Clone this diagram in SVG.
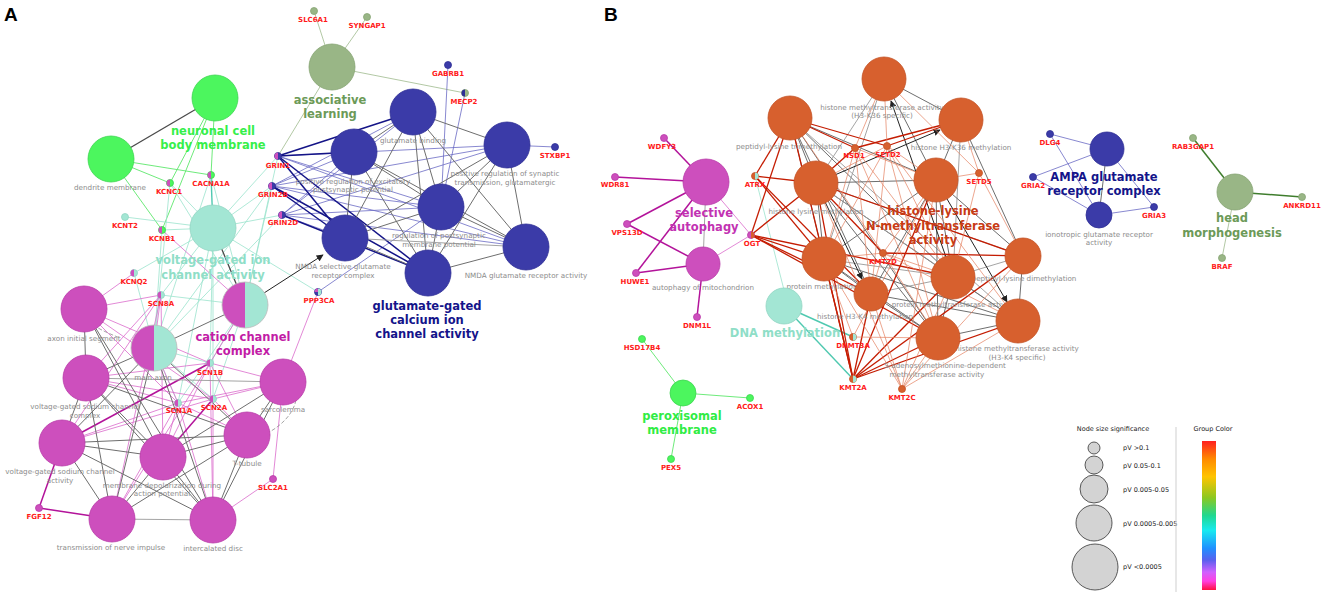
<svg xmlns="http://www.w3.org/2000/svg" width="1325" height="596" viewBox="0 0 1325 596">
<style>
.t{font-family:"DejaVu Sans",sans-serif;font-size:7.2px;fill:#8c8c8c;text-anchor:middle}
.gl{font-family:"DejaVu Sans",sans-serif;font-weight:bold;font-size:7px;fill:#ff1a1a;text-anchor:middle}
.grp{font-family:"DejaVu Sans",sans-serif;font-weight:bold;font-size:11.5px;text-anchor:middle}
.pl{font-family:"Liberation Sans",Arial,sans-serif;font-weight:bold;font-size:19px;fill:#000}
.lg{font-family:"DejaVu Sans",sans-serif;font-size:6.5px;fill:#222}
.ng{fill:#4cf65e;stroke:#3ed550;stroke-width:0.8}
.na{fill:#a3e6d4;stroke:#92d6c3;stroke-width:0.8}
.nm{fill:#cd4fbd;stroke:#b93aa8;stroke-width:0.8}
.nb{fill:#3b3ba8;stroke:#2e2e96;stroke-width:0.8}
.ns{fill:#99b686;stroke:#87a474;stroke-width:0.8}
.no{fill:#d7602e;stroke:#c45224;stroke-width:0.8}
.hg{fill:#4cf65e}.ha{fill:#a3e6d4}.hm{fill:#cd4fbd}.hb{fill:#2e2e96}.hs{fill:#99b686}.ho{fill:#d7602e}
.e-k{stroke:#4a4a4a;stroke-width:1.3;fill:none}
.e-g{stroke:#6e6e6e;stroke-width:1;fill:none}
.e-gl{stroke:#9a9a9a;stroke-width:0.9;fill:none}
.e-a{stroke:#9ae3cd;stroke-width:0.8;fill:none}
.e-A{stroke:#4fc9b0;stroke-width:1.4;fill:none}
.e-gr{stroke:#5ee86c;stroke-width:0.9;fill:none}
.e-m{stroke:#da6bcb;stroke-width:0.8;fill:none}
.e-M{stroke:#b3139a;stroke-width:1.5;fill:none}
.e-b{stroke:#6a6ac4;stroke-width:0.8;fill:none}
.e-B{stroke:#141487;stroke-width:1.5;fill:none}
.e-s{stroke:#a9c29a;stroke-width:0.9;fill:none}
.e-S{stroke:#3f7d2d;stroke-width:1.5;fill:none}
.e-r{stroke:#c41c02;stroke-width:1.3;fill:none}
.e-o{stroke:#e4805e;stroke-width:0.7;fill:none}
.e-ar{stroke:#222;stroke-width:1;fill:none;marker-end:url(#arr)}
</style>
<defs>
<marker id="arr" viewBox="0 0 10 10" refX="9" refY="5" markerWidth="7" markerHeight="7" orient="auto" markerUnits="userSpaceOnUse"><path d="M0,0 L10,5 L0,10 z" fill="#222"/></marker>
<linearGradient id="gc" x1="0" y1="0" x2="0" y2="1">
<stop offset="0" stop-color="#ff2020"/><stop offset="0.12" stop-color="#ff8a00"/><stop offset="0.24" stop-color="#ffc400"/><stop offset="0.38" stop-color="#8cc820"/><stop offset="0.5" stop-color="#20d890"/><stop offset="0.6" stop-color="#18eaf0"/><stop offset="0.72" stop-color="#2090ff"/><stop offset="0.8" stop-color="#5a60ee"/><stop offset="0.88" stop-color="#d060ff"/><stop offset="0.94" stop-color="#ff40e0"/><stop offset="1" stop-color="#ff1040"/>
</linearGradient>
</defs>
<rect width="1325" height="596" fill="#fff"/>
<text class="pl" x="4" y="21">A</text>
<text class="pl" x="604" y="21">B</text>

<g id="connectors">
<!-- Panel A: green -->
<line class="e-k" x1="215" y1="98" x2="111" y2="159"/>
<line class="e-gr" x1="215" y1="98" x2="170" y2="183"/>
<line class="e-gr" x1="215" y1="98" x2="162" y2="230"/>
<line class="e-gr" x1="215" y1="98" x2="211" y2="175"/>
<line class="e-gr" x1="111" y1="159" x2="170" y2="183"/>
<line class="e-gr" x1="111" y1="159" x2="211" y2="175"/>
<line class="e-gr" x1="111" y1="159" x2="162" y2="230"/>
<!-- aquamarine -->
<line class="e-a" x1="213" y1="228" x2="170" y2="183"/>
<line class="e-A" x1="213" y1="228" x2="211" y2="175"/>
<line class="e-a" x1="213" y1="228" x2="125" y2="217"/>
<line class="e-a" x1="213" y1="228" x2="162" y2="230"/>
<line class="e-a" x1="213" y1="228" x2="278" y2="156"/>
<line class="e-a" x1="213" y1="228" x2="272" y2="186"/>
<line class="e-a" x1="213" y1="228" x2="282" y2="215"/>
<line class="e-a" x1="213" y1="228" x2="134" y2="273"/>
<line class="e-a" x1="213" y1="228" x2="161" y2="295"/>
<line class="e-a" x1="213" y1="228" x2="210" y2="363"/>
<line class="e-a" x1="213" y1="228" x2="178" y2="403"/>
<line class="e-a" x1="213" y1="228" x2="213" y2="399"/>
<line class="e-a" x1="213" y1="228" x2="318" y2="292"/>
<line class="e-a" x1="245" y1="305" x2="211" y2="175"/>
<line class="e-a" x1="245" y1="305" x2="170" y2="183"/>
<line class="e-a" x1="245" y1="305" x2="161" y2="295"/>
<line class="e-a" x1="245" y1="305" x2="210" y2="363"/>
<line class="e-a" x1="245" y1="305" x2="178" y2="403"/>
<line class="e-a" x1="245" y1="305" x2="213" y2="399"/>
<line class="e-a" x1="245" y1="305" x2="278" y2="156"/>
<line class="e-a" x1="245" y1="305" x2="272" y2="186"/>
<line class="e-a" x1="154" y1="348" x2="162" y2="230"/>
<line class="e-a" x1="154" y1="348" x2="170" y2="183"/>
<line class="e-a" x1="154" y1="348" x2="211" y2="175"/>
<line class="e-a" x1="154" y1="348" x2="210" y2="363"/>
<line class="e-a" x1="154" y1="348" x2="178" y2="403"/>
<line class="e-a" x1="154" y1="348" x2="213" y2="399"/>
<line class="e-a" x1="154" y1="348" x2="134" y2="273"/>
<line class="e-a" x1="154" y1="348" x2="272" y2="186"/>
<line class="e-a" x1="154" y1="348" x2="282" y2="215"/>
<!-- magenta -->
<line class="e-m" x1="84" y1="309" x2="134" y2="273"/>
<line class="e-m" x1="84" y1="309" x2="161" y2="295"/>
<line class="e-m" x1="84" y1="309" x2="178" y2="403"/>
<line class="e-m" x1="84" y1="309" x2="213" y2="399"/>
<line class="e-m" x1="84" y1="309" x2="210" y2="363"/>
<line class="e-m" x1="154" y1="348" x2="161" y2="295"/>
<line class="e-m" x1="154" y1="348" x2="178" y2="403"/>
<line class="e-m" x1="86" y1="378" x2="161" y2="295"/>
<line class="e-m" x1="86" y1="378" x2="210" y2="363"/>
<line class="e-m" x1="86" y1="378" x2="178" y2="403"/>
<line class="e-m" x1="86" y1="378" x2="213" y2="399"/>
<line class="e-m" x1="62" y1="443" x2="161" y2="295"/>
<line class="e-m" x1="62" y1="443" x2="178" y2="403"/>
<line class="e-m" x1="62" y1="443" x2="213" y2="399"/>
<line class="e-m" x1="163" y1="457" x2="161" y2="295"/>
<line class="e-m" x1="163" y1="457" x2="210" y2="363"/>
<line class="e-m" x1="163" y1="457" x2="178" y2="403"/>
<line class="e-m" x1="112" y1="519" x2="161" y2="295"/>
<line class="e-m" x1="112" y1="519" x2="210" y2="363"/>
<line class="e-m" x1="112" y1="519" x2="178" y2="403"/>
<line class="e-m" x1="213" y1="520" x2="178" y2="403"/>
<line class="e-m" x1="213" y1="520" x2="213" y2="399"/>
<line class="e-m" x1="213" y1="520" x2="210" y2="363"/>
<line class="e-m" x1="213" y1="520" x2="273" y2="479"/>
<line class="e-m" x1="247" y1="435" x2="178" y2="403"/>
<line class="e-m" x1="247" y1="435" x2="213" y2="399"/>
<line class="e-m" x1="247" y1="435" x2="210" y2="363"/>
<line class="e-m" x1="283" y1="382" x2="210" y2="363"/>
<line class="e-m" x1="283" y1="382" x2="178" y2="403"/>
<line class="e-m" x1="283" y1="382" x2="213" y2="399"/>
<line class="e-m" x1="283" y1="382" x2="318" y2="292"/>
<line class="e-m" x1="283" y1="382" x2="273" y2="479"/>
<line class="e-m" x1="245" y1="305" x2="162" y2="230"/>
<line class="e-m" x1="245" y1="305" x2="210" y2="363"/>
<line class="e-M" x1="62" y1="443" x2="39" y2="508"/>
<line class="e-M" x1="112" y1="519" x2="39" y2="508"/>
<line class="e-M" x1="62" y1="443" x2="210" y2="363"/>
<line class="e-M" x1="163" y1="457" x2="213" y2="399"/>
<!-- grey in magenta cluster -->
<line class="e-k" x1="213" y1="228" x2="245" y2="305"/>
<line class="e-g" x1="245" y1="305" x2="154" y2="348"/>
<line class="e-g" x1="84" y1="309" x2="86" y2="378"/>
<line class="e-g" x1="84" y1="309" x2="163" y2="457"/>
<line class="e-g" x1="84" y1="309" x2="213" y2="520"/>
<line class="e-g" x1="86" y1="378" x2="62" y2="443"/>
<line class="e-g" x1="86" y1="378" x2="163" y2="457"/>
<line class="e-g" x1="86" y1="378" x2="247" y2="435"/>
<line class="e-gl" x1="86" y1="378" x2="283" y2="382"/>
<line class="e-g" x1="86" y1="378" x2="213" y2="520"/>
<line class="e-g" x1="86" y1="378" x2="112" y2="519"/>
<line class="e-g" x1="62" y1="443" x2="163" y2="457"/>
<line class="e-g" x1="62" y1="443" x2="112" y2="519"/>
<line class="e-g" x1="62" y1="443" x2="213" y2="520"/>
<line class="e-g" x1="62" y1="443" x2="247" y2="435"/>
<line class="e-g" x1="163" y1="457" x2="112" y2="519"/>
<line class="e-g" x1="163" y1="457" x2="213" y2="520"/>
<line class="e-g" x1="163" y1="457" x2="247" y2="435"/>
<line class="e-g" x1="163" y1="457" x2="283" y2="382"/>
<line class="e-gl" x1="112" y1="519" x2="213" y2="520"/>
<line class="e-g" x1="112" y1="519" x2="247" y2="435"/>
<line class="e-g" x1="213" y1="520" x2="247" y2="435"/>
<line class="e-g" x1="213" y1="520" x2="283" y2="382"/>
<line class="e-g" x1="247" y1="435" x2="283" y2="382"/>
<line class="e-g" x1="154" y1="348" x2="62" y2="443"/>
<line class="e-g" x1="154" y1="348" x2="112" y2="519"/>
<line class="e-g" x1="154" y1="348" x2="213" y2="520"/>
<line class="e-g" x1="154" y1="348" x2="247" y2="435"/>
<line class="e-g" x1="154" y1="348" x2="86" y2="378"/>
<path class="e-gl" d="M70,292 C72,318 100,330 120,338" stroke-dasharray="4,2"/>
<path class="e-gl" d="M296,400 C292,420 270,434 255,438" stroke-dasharray="4,2"/>
<!-- sage -->
<line class="e-s" x1="332" y1="67" x2="314" y2="11"/>
<line class="e-s" x1="332" y1="67" x2="367" y2="17"/>
<line class="e-s" x1="332" y1="67" x2="465" y2="93"/>
<line class="e-s" x1="332" y1="67" x2="278" y2="156"/>
<!-- blue -->
<line class="e-b" x1="448" y1="65" x2="441" y2="207"/>
<line class="e-b" x1="465" y1="93" x2="441" y2="207"/>
<line class="e-b" x1="555" y1="147" x2="507" y2="145"/>
<line class="e-b" x1="318" y1="292" x2="441" y2="207"/>
<line class="e-b" x1="278" y1="156" x2="507" y2="145"/>
<line class="e-b" x1="278" y1="156" x2="441" y2="207"/>
<line class="e-b" x1="278" y1="156" x2="526" y2="247"/>
<line class="e-b" x1="272" y1="186" x2="413" y2="112"/>
<line class="e-b" x1="272" y1="186" x2="354" y2="152"/>
<line class="e-b" x1="272" y1="186" x2="507" y2="145"/>
<line class="e-b" x1="272" y1="186" x2="441" y2="207"/>
<line class="e-b" x1="272" y1="186" x2="526" y2="247"/>
<line class="e-b" x1="282" y1="215" x2="413" y2="112"/>
<line class="e-b" x1="282" y1="215" x2="354" y2="152"/>
<line class="e-b" x1="282" y1="215" x2="507" y2="145"/>
<line class="e-b" x1="282" y1="215" x2="441" y2="207"/>
<line class="e-b" x1="282" y1="215" x2="526" y2="247"/>
<line class="e-b" x1="282" y1="215" x2="345" y2="238"/>
<line class="e-B" x1="278" y1="156" x2="413" y2="112"/>
<line class="e-B" x1="278" y1="156" x2="354" y2="152"/>
<line class="e-B" x1="278" y1="156" x2="345" y2="238"/>
<line class="e-B" x1="278" y1="156" x2="428" y2="273"/>
<line class="e-B" x1="272" y1="186" x2="345" y2="238"/>
<line class="e-B" x1="272" y1="186" x2="428" y2="273"/>
<line class="e-B" x1="282" y1="215" x2="428" y2="273"/>
<!-- grey in blue cluster -->
<line class="e-g" x1="413" y1="112" x2="354" y2="152"/>
<line class="e-g" x1="413" y1="112" x2="507" y2="145"/>
<line class="e-g" x1="413" y1="112" x2="441" y2="207"/>
<line class="e-g" x1="413" y1="112" x2="345" y2="238"/>
<line class="e-g" x1="413" y1="112" x2="428" y2="273"/>
<line class="e-g" x1="413" y1="112" x2="526" y2="247"/>
<line class="e-g" x1="354" y1="152" x2="441" y2="207"/>
<line class="e-g" x1="354" y1="152" x2="345" y2="238"/>
<line class="e-g" x1="354" y1="152" x2="428" y2="273"/>
<line class="e-g" x1="354" y1="152" x2="526" y2="247"/>
<line class="e-g" x1="507" y1="145" x2="441" y2="207"/>
<line class="e-g" x1="507" y1="145" x2="526" y2="247"/>
<line class="e-g" x1="507" y1="145" x2="345" y2="238"/>
<line class="e-g" x1="507" y1="145" x2="428" y2="273"/>
<line class="e-g" x1="441" y1="207" x2="345" y2="238"/>
<line class="e-g" x1="441" y1="207" x2="428" y2="273"/>
<line class="e-g" x1="441" y1="207" x2="526" y2="247"/>
<line class="e-g" x1="345" y1="238" x2="428" y2="273"/>
<line class="e-gl" x1="345" y1="238" x2="526" y2="247"/>
<line class="e-g" x1="428" y1="273" x2="526" y2="247"/>
<line class="e-ar" x1="264" y1="293" x2="323" y2="255"/>

<!-- Panel B: autophagy -->
<line class="e-M" x1="706" y1="182" x2="664" y2="138"/>
<line class="e-M" x1="706" y1="182" x2="615" y2="177"/>
<line class="e-M" x1="706" y1="182" x2="627" y2="224"/>
<line class="e-M" x1="706" y1="182" x2="636" y2="273"/>
<line class="e-M" x1="703" y1="264" x2="627" y2="224"/>
<line class="e-M" x1="703" y1="264" x2="636" y2="273"/>
<line class="e-M" x1="703" y1="264" x2="697" y2="317"/>
<line class="e-m" x1="706" y1="182" x2="751" y2="235"/>
<line class="e-m" x1="703" y1="264" x2="751" y2="235"/>
<line class="e-gl" x1="706" y1="182" x2="703" y2="264"/>
<!-- aq B -->
<line class="e-a" x1="755" y1="176" x2="784" y2="290"/>
<line class="e-A" x1="784" y1="306" x2="853" y2="337"/>
<line class="e-A" x1="784" y1="306" x2="853" y2="379"/>
<!-- grey orange cluster -->
<line class="e-g" x1="790" y1="118" x2="816" y2="183"/>
<line class="e-g" x1="790" y1="118" x2="936" y2="180"/>
<line class="e-g" x1="790" y1="118" x2="824" y2="259"/>
<line class="e-g" x1="790" y1="118" x2="871" y2="294"/>
<line class="e-g" x1="790" y1="118" x2="953" y2="277"/>
<line class="e-g" x1="790" y1="118" x2="938" y2="338"/>
<line class="e-gl" x1="790" y1="118" x2="1018" y2="321"/>
<line class="e-g" x1="884" y1="79" x2="961" y2="120"/>
<line class="e-gl" x1="884" y1="79" x2="816" y2="183"/>
<line class="e-gl" x1="884" y1="79" x2="824" y2="259"/>
<line class="e-g" x1="884" y1="79" x2="936" y2="180"/>
<line class="e-g" x1="961" y1="120" x2="936" y2="180"/>
<line class="e-g" x1="961" y1="120" x2="1023" y2="256"/>
<line class="e-gl" x1="961" y1="120" x2="953" y2="277"/>
<line class="e-g" x1="816" y1="183" x2="936" y2="180"/>
<line class="e-g" x1="816" y1="183" x2="824" y2="259"/>
<line class="e-g" x1="816" y1="183" x2="953" y2="277"/>
<line class="e-g" x1="816" y1="183" x2="938" y2="338"/>
<line class="e-gl" x1="816" y1="183" x2="1018" y2="321"/>
<line class="e-gl" x1="816" y1="183" x2="1023" y2="256"/>
<line class="e-g" x1="936" y1="180" x2="953" y2="277"/>
<line class="e-g" x1="936" y1="180" x2="824" y2="259"/>
<line class="e-g" x1="936" y1="180" x2="1023" y2="256"/>
<line class="e-g" x1="936" y1="180" x2="871" y2="294"/>
<line class="e-g" x1="936" y1="180" x2="938" y2="338"/>
<line class="e-g" x1="824" y1="259" x2="871" y2="294"/>
<line class="e-gl" x1="824" y1="259" x2="953" y2="277"/>
<line class="e-g" x1="824" y1="259" x2="938" y2="338"/>
<line class="e-g" x1="824" y1="259" x2="1018" y2="321"/>
<line class="e-g" x1="953" y1="277" x2="938" y2="338"/>
<line class="e-g" x1="953" y1="277" x2="1018" y2="321"/>
<line class="e-gl" x1="953" y1="277" x2="1023" y2="256"/>
<line class="e-g" x1="871" y1="294" x2="938" y2="338"/>
<line class="e-gl" x1="871" y1="294" x2="953" y2="277"/>
<line class="e-g" x1="871" y1="294" x2="1018" y2="321"/>
<line class="e-g" x1="938" y1="338" x2="1018" y2="321"/>
<line class="e-g" x1="1023" y1="256" x2="1018" y2="321"/>
<line class="e-ar" x1="953" y1="277" x2="891" y2="101"/>
<line class="e-ar" x1="816" y1="183" x2="940" y2="130"/>
<line class="e-ar" x1="936" y1="180" x2="1007" y2="302"/>
<line class="e-ar" x1="816" y1="183" x2="862" y2="279"/>
<!-- red / orange -->
<line class="e-r" x1="755" y1="176" x2="790" y2="118"/>
<line class="e-r" x1="755" y1="176" x2="816" y2="183"/>
<line class="e-r" x1="755" y1="176" x2="824" y2="259"/>
<line class="e-r" x1="755" y1="176" x2="871" y2="294"/>
<line class="e-r" x1="751" y1="235" x2="790" y2="118"/>
<line class="e-r" x1="751" y1="235" x2="816" y2="183"/>
<line class="e-r" x1="751" y1="235" x2="824" y2="259"/>
<line class="e-r" x1="751" y1="235" x2="871" y2="294"/>
<line class="e-r" x1="751" y1="235" x2="953" y2="277"/>
<line class="e-r" x1="751" y1="235" x2="938" y2="338"/>
<line class="e-r" x1="853" y1="379" x2="790" y2="118"/>
<line class="e-r" x1="853" y1="379" x2="816" y2="183"/>
<line class="e-r" x1="853" y1="379" x2="824" y2="259"/>
<line class="e-r" x1="853" y1="379" x2="871" y2="294"/>
<line class="e-r" x1="853" y1="379" x2="953" y2="277"/>
<line class="e-r" x1="853" y1="379" x2="936" y2="180"/>
<line class="e-r" x1="853" y1="379" x2="938" y2="338"/>
<line class="e-r" x1="853" y1="379" x2="1018" y2="321"/>
<line class="e-r" x1="853" y1="379" x2="1023" y2="256"/>
<line class="e-r" x1="855" y1="148" x2="790" y2="118"/>
<line class="e-r" x1="855" y1="148" x2="961" y2="120"/>
<line class="e-r" x1="855" y1="148" x2="816" y2="183"/>
<line class="e-r" x1="887" y1="146" x2="961" y2="120"/>
<line class="e-r" x1="887" y1="146" x2="790" y2="118"/>
<line class="e-r" x1="883" y1="253" x2="816" y2="183"/>
<line class="e-r" x1="883" y1="253" x2="1023" y2="256"/>
<line class="e-r" x1="816" y1="183" x2="1023" y2="256"/>
<line class="e-o" x1="855" y1="148" x2="884" y2="79"/>
<line class="e-o" x1="855" y1="148" x2="936" y2="180"/>
<line class="e-o" x1="855" y1="148" x2="824" y2="259"/>
<line class="e-o" x1="855" y1="148" x2="953" y2="277"/>
<line class="e-o" x1="855" y1="148" x2="938" y2="338"/>
<line class="e-o" x1="855" y1="148" x2="871" y2="294"/>
<line class="e-o" x1="887" y1="146" x2="884" y2="79"/>
<line class="e-o" x1="887" y1="146" x2="936" y2="180"/>
<line class="e-o" x1="887" y1="146" x2="816" y2="183"/>
<line class="e-o" x1="887" y1="146" x2="824" y2="259"/>
<line class="e-o" x1="887" y1="146" x2="953" y2="277"/>
<line class="e-o" x1="887" y1="146" x2="938" y2="338"/>
<line class="e-o" x1="887" y1="146" x2="871" y2="294"/>
<line class="e-o" x1="887" y1="146" x2="1018" y2="321"/>
<line class="e-o" x1="979" y1="173" x2="961" y2="120"/>
<line class="e-o" x1="979" y1="173" x2="884" y2="79"/>
<line class="e-o" x1="979" y1="173" x2="936" y2="180"/>
<line class="e-o" x1="979" y1="173" x2="1023" y2="256"/>
<line class="e-o" x1="979" y1="173" x2="953" y2="277"/>
<line class="e-o" x1="883" y1="253" x2="824" y2="259"/>
<line class="e-o" x1="883" y1="253" x2="936" y2="180"/>
<line class="e-o" x1="883" y1="253" x2="953" y2="277"/>
<line class="e-o" x1="883" y1="253" x2="938" y2="338"/>
<line class="e-o" x1="883" y1="253" x2="871" y2="294"/>
<line class="e-o" x1="883" y1="253" x2="1018" y2="321"/>
<line class="e-o" x1="883" y1="253" x2="790" y2="118"/>
<line class="e-o" x1="902" y1="389" x2="824" y2="259"/>
<line class="e-o" x1="902" y1="389" x2="936" y2="180"/>
<line class="e-o" x1="902" y1="389" x2="953" y2="277"/>
<line class="e-o" x1="902" y1="389" x2="938" y2="338"/>
<line class="e-o" x1="902" y1="389" x2="871" y2="294"/>
<line class="e-o" x1="902" y1="389" x2="1018" y2="321"/>
<line class="e-o" x1="902" y1="389" x2="1023" y2="256"/>
<line class="e-o" x1="902" y1="389" x2="816" y2="183"/>
<line class="e-o" x1="853" y1="337" x2="938" y2="338"/>
<line class="e-o" x1="853" y1="337" x2="936" y2="180"/>
<line class="e-o" x1="853" y1="337" x2="824" y2="259"/>
<!-- AMPA -->
<line class="e-b" x1="1050" y1="134" x2="1107" y2="149"/>
<line class="e-b" x1="1050" y1="134" x2="1099" y2="215"/>
<line class="e-b" x1="1033" y1="177" x2="1107" y2="149"/>
<line class="e-b" x1="1033" y1="177" x2="1099" y2="215"/>
<line class="e-b" x1="1154" y1="207" x2="1107" y2="149"/>
<line class="e-b" x1="1154" y1="207" x2="1099" y2="215"/>
<line class="e-g" x1="1107" y1="149" x2="1099" y2="215"/>
<!-- head morphogenesis -->
<line class="e-S" x1="1235" y1="192" x2="1193" y2="138"/>
<line class="e-S" x1="1235" y1="192" x2="1302" y2="197"/>
<line class="e-s" x1="1235" y1="192" x2="1222" y2="258"/>
<!-- peroxisomal -->
<line class="e-gr" x1="683" y1="393" x2="642" y2="339"/>
<line class="e-gr" x1="683" y1="393" x2="750" y2="398"/>
<line class="e-gr" x1="683" y1="393" x2="671" y2="459"/>
</g>

<!-- Panel A nodes -->
<g id="n-neuronal-cell-body-membrane"><circle class="ng" cx="215" cy="98" r="23"/></g>
<g id="n-dendrite-membrane"><circle class="ng" cx="111" cy="159" r="23"/><text class="t" x="110" y="190">dendrite membrane</text></g>
<g id="n-voltage-gated-ion-channel-activity"><circle class="na" cx="213" cy="228" r="23"/></g>
<g id="n-cation-channel-complex"><path class="hm" d="M245,282 A23,23 0 0 0 245,328 Z"/><path class="ha" d="M245,282 A23,23 0 0 1 245,328 Z"/><circle cx="245" cy="305" r="23" fill="none" stroke="#bbb" stroke-width="0.8"/></g>
<g id="n-axon-initial-segment"><circle class="nm" cx="84" cy="309" r="23"/><text class="t" x="84" y="341">axon initial segment</text></g>
<g id="n-main-axon"><path class="hm" d="M154,325 A23,23 0 0 0 154,371 Z"/><path class="ha" d="M154,325 A23,23 0 0 1 154,371 Z"/><circle cx="154" cy="348" r="23" fill="none" stroke="#bbb" stroke-width="0.8"/><text class="t" x="153" y="380">main axon</text></g>
<g id="n-vgsc-complex"><circle class="nm" cx="86" cy="378" r="23"/><text class="t" x="85" y="409">voltage-gated sodium channel</text><text class="t" x="85" y="418">complex</text></g>
<g id="n-sarcolemma"><circle class="nm" cx="283" cy="382" r="23"/><text class="t" x="283" y="412">sarcolemma</text></g>
<g id="n-vgsc-activity"><circle class="nm" cx="62" cy="443" r="23"/><text class="t" x="60" y="474">voltage-gated sodium channel</text><text class="t" x="60" y="483">activity</text></g>
<g id="n-membrane-depolarization"><circle class="nm" cx="163" cy="457" r="23"/><text class="t" x="162" y="487.5">membrane depolarization during</text><text class="t" x="162" y="496">action potential</text></g>
<g id="n-t-tubule"><circle class="nm" cx="247" cy="435" r="23"/><text class="t" x="247" y="466">T-tubule</text></g>
<g id="n-transmission-of-nerve-impulse"><circle class="nm" cx="112" cy="519" r="23"/><text class="t" x="111" y="550">transmission of nerve impulse</text></g>
<g id="n-intercalated-disc"><circle class="nm" cx="213" cy="520" r="23"/><text class="t" x="213" y="551">intercalated disc</text></g>
<g id="n-associative-learning"><circle class="ns" cx="332" cy="67" r="23"/></g>
<g id="n-glutamate-binding"><circle class="nb" cx="413" cy="112" r="23"/><text class="t" x="413" y="143">glutamate binding</text></g>
<g id="n-pos-reg-excitatory"><circle class="nb" cx="354" cy="152" r="23"/><text class="t" x="353" y="183.5">positive regulation of excitatory</text><text class="t" x="353" y="192">postsynaptic potential</text></g>
<g id="n-pos-reg-synaptic"><circle class="nb" cx="507" cy="145" r="23"/><text class="t" x="505" y="176">positive regulation of synaptic</text><text class="t" x="505" y="185">transmission, glutamatergic</text></g>
<g id="n-reg-postsynaptic"><circle class="nb" cx="441" cy="207" r="23"/><text class="t" x="439" y="238">regulation of postsynaptic</text><text class="t" x="439" y="247">membrane potential</text></g>
<g id="n-nmda-complex"><circle class="nb" cx="345" cy="238" r="23"/><text class="t" x="343" y="269">NMDA selective glutamate</text><text class="t" x="343" y="278">receptor complex</text></g>
<g id="n-nmda-activity"><circle class="nb" cx="526" cy="247" r="23"/><text class="t" x="526" y="278">NMDA glutamate receptor activity</text></g>
<g id="n-glutamate-gated"><circle class="nb" cx="428" cy="273" r="23"/></g>

<!-- Panel A genes -->
<g id="g-SLC6A1"><circle class="ns" cx="314" cy="11" r="3.5"/><text class="gl" x="313" y="21.5">SLC6A1</text></g>
<g id="g-SYNGAP1"><circle class="ns" cx="367" cy="17" r="3.5"/><text class="gl" x="367" y="28">SYNGAP1</text></g>
<g id="g-GABRB1"><circle class="nb" cx="448" cy="65" r="3.5"/><text class="gl" x="448" y="76">GABRB1</text></g>
<g id="g-MECP2"><circle class="ns" cx="465" cy="93" r="3.5"/><path class="hb" d="M465,89.5 A3.5,3.5 0 0 0 465,96.5 Z"/><text class="gl" x="464" y="104">MECP2</text></g>
<g id="g-STXBP1"><circle class="nb" cx="555" cy="147" r="3.5"/><text class="gl" x="555" y="157.5">STXBP1</text></g>
<g id="g-GRIN1"><circle class="nb" cx="278" cy="156" r="3.5"/><path class="hm" d="M278,152.5 A3.5,3.5 0 0 0 278,159.5 Z"/><text class="gl" x="278" y="167.5">GRIN1</text></g>
<g id="g-GRIN2B"><circle class="nb" cx="272" cy="186" r="3.5"/><path class="hm" d="M272,182.5 A3.5,3.5 0 0 0 272,189.5 Z"/><text class="gl" x="273" y="196.5">GRIN2B</text></g>
<g id="g-GRIN2D"><circle class="nb" cx="282" cy="215" r="3.5"/><path class="hm" d="M282,211.5 A3.5,3.5 0 0 0 282,218.5 Z"/><text class="gl" x="283" y="225">GRIN2D</text></g>
<g id="g-PPP3CA"><circle class="nb" cx="318" cy="292" r="3.5"/><path class="ha" d="M318,288.5 A3.5,3.5 0 0 1 318,295.5 Z"/><path class="hm" d="M314.5,292 A3.5,3.5 0 0 1 318,288.5 L318,292 Z"/><text class="gl" x="319" y="302.5">PPP3CA</text></g>
<g id="g-KCNC1"><circle class="ng" cx="170" cy="183" r="3.5"/><path class="hm" d="M170,179.5 A3.5,3.5 0 0 0 170,186.5 Z"/><text class="gl" x="169" y="194">KCNC1</text></g>
<g id="g-CACNA1A"><circle class="ng" cx="211" cy="175" r="3.5"/><path class="hm" d="M211,171.5 A3.5,3.5 0 0 0 211,178.5 Z"/><text class="gl" x="211" y="186">CACNA1A</text></g>
<g id="g-KCNT2"><circle class="na" cx="125" cy="217" r="3.5"/><text class="gl" x="125" y="227.5">KCNT2</text></g>
<g id="g-KCNB1"><circle class="ng" cx="162" cy="230" r="3.5"/><path class="hm" d="M162,226.5 A3.5,3.5 0 0 0 162,233.5 Z"/><text class="gl" x="162" y="240.5">KCNB1</text></g>
<g id="g-KCNQ2"><circle class="na" cx="134" cy="273" r="3.5"/><path class="hm" d="M134,269.5 A3.5,3.5 0 0 0 134,276.5 Z"/><text class="gl" x="134" y="283.5">KCNQ2</text></g>
<g id="g-SCN8A"><circle class="na" cx="161" cy="295" r="3.5"/><path class="hm" d="M161,291.5 A3.5,3.5 0 0 0 161,298.5 Z"/><text class="gl" x="161" y="305.5">SCN8A</text></g>
<g id="g-SCN1B"><circle class="na" cx="210" cy="363" r="3.5"/><path class="hm" d="M210,359.5 A3.5,3.5 0 0 0 210,366.5 Z"/><text class="gl" x="210" y="375">SCN1B</text></g>
<g id="g-SCN1A"><circle class="na" cx="178" cy="403" r="3.5"/><path class="hm" d="M178,399.5 A3.5,3.5 0 0 0 178,406.5 Z"/><text class="gl" x="179" y="413">SCN1A</text></g>
<g id="g-SCN2A"><circle class="na" cx="213" cy="399" r="3.5"/><path class="hm" d="M213,395.5 A3.5,3.5 0 0 0 213,402.5 Z"/><text class="gl" x="214" y="409.5">SCN2A</text></g>
<g id="g-SLC2A1"><circle class="nm" cx="273" cy="479" r="3.5"/><text class="gl" x="273" y="490">SLC2A1</text></g>
<g id="g-FGF12"><circle class="nm" cx="39" cy="508" r="3.5"/><text class="gl" x="39" y="518.5">FGF12</text></g>

<!-- Panel A group labels -->
<g id="lbl-A">
<text class="grp" x="213" y="134.5" fill="#36ef4a">neuronal cell</text>
<text class="grp" x="213" y="148.5" fill="#36ef4a">body membrane</text>
<text class="grp" x="213" y="263.5" fill="#8fdec7">voltage-gated ion</text>
<text class="grp" x="213" y="278.5" fill="#8fdec7">channel activity</text>
<text class="grp" x="243" y="340.5" fill="#c21ca6">cation channel</text>
<text class="grp" x="243" y="354.5" fill="#c21ca6">complex</text>
<text class="grp" x="330" y="103.5" fill="#6c9a58">associative</text>
<text class="grp" x="330" y="117.5" fill="#6c9a58">learning</text>
<text class="grp" x="427" y="309.5" fill="#14148a">glutamate-gated</text>
<text class="grp" x="427" y="323.5" fill="#14148a">calcium ion</text>
<text class="grp" x="427" y="337.5" fill="#14148a">channel activity</text>
</g>

<!-- Panel B nodes -->
<g id="n-selective-autophagy"><circle class="nm" cx="706" cy="182" r="23"/></g>
<g id="n-autophagy-of-mitochondrion"><circle class="nm" cx="703" cy="264" r="17"/><text class="t" x="703" y="290">autophagy of mitochondrion</text></g>
<g id="n-peptidyl-lysine-trimethylation"><circle class="no" cx="790" cy="118" r="22"/><text class="t" x="789" y="149">peptidyl-lysine trimethylation</text></g>
<g id="n-hmt-h3k36"><circle class="no" cx="884" cy="79" r="22"/><text class="t" x="882" y="110">histone methyltransferase activity</text><text class="t" x="882" y="118">(H3-K36 specific)</text></g>
<g id="n-histone-h3k36-methylation"><circle class="no" cx="961" cy="120" r="22"/><text class="t" x="961" y="149.5">histone H3-K36 methylation</text></g>
<g id="n-histone-lysine-methylation"><circle class="no" cx="816" cy="183" r="22"/><text class="t" x="816" y="214">histone lysine methylation</text></g>
<g id="n-histone-lysine-nmt"><circle class="no" cx="936" cy="180" r="22"/></g>
<g id="n-protein-methylation"><circle class="no" cx="824" cy="259" r="22"/><text class="t" x="822" y="289">protein methylation</text></g>
<g id="n-peptidyl-lysine-dimethylation"><circle class="no" cx="1023" cy="256" r="18"/><text class="t" x="1024" y="281">peptidyl-lysine dimethylation</text></g>
<g id="n-protein-methyltransferase-activity"><circle class="no" cx="953" cy="277" r="22"/><text class="t" x="953" y="306.5">protein methyltransferase activity</text></g>
<g id="n-histone-h3k4-methylation"><circle class="no" cx="871" cy="294" r="17"/><text class="t" x="865" y="319">histone H3-K4 methylation</text></g>
<g id="n-hmt-h3k4"><circle class="no" cx="1018" cy="321" r="22"/><text class="t" x="1017" y="350.5">histone methyltransferase activity</text><text class="t" x="1017" y="359.5">(H3-K4 specific)</text></g>
<g id="n-sam-dependent"><circle class="no" cx="938" cy="338" r="22"/><text class="t" x="945" y="367.5">S-adenosylmethionine-dependent</text><text class="t" x="937" y="376.5">methyltransferase activity</text></g>
<g id="n-dna-methylation"><circle class="na" cx="784" cy="306" r="18"/></g>
<g id="n-ampa-complex"><circle class="nb" cx="1107" cy="149" r="17"/></g>
<g id="n-ionotropic"><circle class="nb" cx="1099" cy="215" r="13"/><text class="t" x="1099" y="236.5">ionotropic glutamate receptor</text><text class="t" x="1099" y="245">activity</text></g>
<g id="n-head-morphogenesis"><circle class="ns" cx="1235" cy="192" r="18"/></g>
<g id="n-peroxisomal-membrane"><circle class="ng" cx="683" cy="393" r="13"/></g>

<!-- Panel B genes -->
<g id="g-WDFY3"><circle class="nm" cx="664" cy="138" r="3.5"/><text class="gl" x="662" y="148.5">WDFY3</text></g>
<g id="g-WDR81"><circle class="nm" cx="615" cy="177" r="3.5"/><text class="gl" x="615" y="187">WDR81</text></g>
<g id="g-VPS13D"><circle class="nm" cx="627" cy="224" r="3.5"/><text class="gl" x="627" y="235">VPS13D</text></g>
<g id="g-HUWE1"><circle class="nm" cx="636" cy="273" r="3.5"/><text class="gl" x="635" y="283.5">HUWE1</text></g>
<g id="g-DNM1L"><circle class="nm" cx="697" cy="317" r="3.5"/><text class="gl" x="697" y="328">DNM1L</text></g>
<g id="g-OGT"><circle class="nm" cx="751" cy="235" r="3.5"/><path class="ho" d="M751,231.5 A3.5,3.5 0 0 1 751,238.5 Z"/><text class="gl" x="752" y="246">OGT</text></g>
<g id="g-ATRX"><circle class="no" cx="755" cy="176" r="3.5"/><path class="ha" d="M755,172.5 A3.5,3.5 0 0 1 755,179.5 Z"/><text class="gl" x="755" y="187">ATRX</text></g>
<g id="g-NSD1"><circle class="no" cx="855" cy="148" r="3.5"/><text class="gl" x="854" y="158">NSD1</text></g>
<g id="g-SETD2"><circle class="no" cx="887" cy="146" r="3.5"/><text class="gl" x="888" y="156.5">SETD2</text></g>
<g id="g-SETD5"><circle class="no" cx="979" cy="173" r="3.5"/><text class="gl" x="979" y="184">SETD5</text></g>
<g id="g-KMT2D"><circle class="no" cx="883" cy="253" r="3.5"/><text class="gl" x="883" y="264">KMT2D</text></g>
<g id="g-DNMT3A"><circle class="no" cx="853" cy="337" r="3.5"/><path class="ha" d="M853,333.5 A3.5,3.5 0 0 1 853,340.5 Z"/><text class="gl" x="853" y="348">DNMT3A</text></g>
<g id="g-KMT2A"><circle class="no" cx="853" cy="379" r="3.5"/><path class="ha" d="M853,375.5 A3.5,3.5 0 0 1 853,382.5 Z"/><text class="gl" x="853" y="390">KMT2A</text></g>
<g id="g-KMT2C"><circle class="no" cx="902" cy="389" r="3.5"/><text class="gl" x="902" y="400">KMT2C</text></g>
<g id="g-DLG4"><circle class="nb" cx="1050" cy="134" r="3.5"/><text class="gl" x="1050" y="145">DLG4</text></g>
<g id="g-GRIA2"><circle class="nb" cx="1033" cy="177" r="3.5"/><text class="gl" x="1033" y="187.5">GRIA2</text></g>
<g id="g-GRIA3"><circle class="nb" cx="1154" cy="207" r="3.5"/><text class="gl" x="1154" y="217.5">GRIA3</text></g>
<g id="g-RAB3GAP1"><circle class="ns" cx="1193" cy="138" r="3.5"/><text class="gl" x="1193" y="149">RAB3GAP1</text></g>
<g id="g-ANKRD11"><circle class="ns" cx="1302" cy="197" r="3.5"/><text class="gl" x="1302" y="208">ANKRD11</text></g>
<g id="g-BRAF"><circle class="ns" cx="1222" cy="258" r="3.5"/><text class="gl" x="1222" y="268.5">BRAF</text></g>
<g id="g-HSD17B4"><circle class="ng" cx="642" cy="339" r="3.5"/><text class="gl" x="642" y="350">HSD17B4</text></g>
<g id="g-ACOX1"><circle class="ng" cx="750" cy="398" r="3.5"/><text class="gl" x="750" y="409">ACOX1</text></g>
<g id="g-PEX5"><circle class="ng" cx="671" cy="459" r="3.5"/><text class="gl" x="671" y="470">PEX5</text></g>

<!-- Panel B group labels -->
<g id="lbl-B">
<text class="grp" x="704" y="217" fill="#c232b2">selective</text>
<text class="grp" x="704" y="231" fill="#c232b2">autophagy</text>
<text class="grp" x="933" y="214.5" fill="#c83a14">histone-lysine</text>
<text class="grp" x="933" y="229.5" fill="#c83a14">N-methyltransferase</text>
<text class="grp" x="933" y="243.5" fill="#c83a14">activity</text>
<text class="grp" x="785" y="337" fill="#8fdec7">DNA methylation</text>
<text class="grp" x="1104" y="180.5" fill="#14148a">AMPA glutamate</text>
<text class="grp" x="1104" y="194.5" fill="#14148a">receptor complex</text>
<text class="grp" x="1232" y="222" fill="#6c9a58">head</text>
<text class="grp" x="1232" y="237" fill="#6c9a58">morphogenesis</text>
<text class="grp" x="682" y="419.5" fill="#30ec44">peroxisomal</text>
<text class="grp" x="682" y="433.5" fill="#30ec44">membrane</text>
</g>

<!-- Legend -->
<g id="legend">
<text class="lg" x="1113" y="431" text-anchor="middle">Node size significance</text>
<circle cx="1094" cy="448" r="6" fill="#d3d3d3" stroke="#333" stroke-width="0.8"/>
<circle cx="1094" cy="465" r="9" fill="#d3d3d3" stroke="#333" stroke-width="0.8"/>
<circle cx="1094" cy="489" r="14" fill="#d3d3d3" stroke="#333" stroke-width="0.8"/>
<circle cx="1094" cy="523" r="18" fill="#d3d3d3" stroke="#333" stroke-width="0.8"/>
<circle cx="1095" cy="567" r="23" fill="#d3d3d3" stroke="#333" stroke-width="0.8"/>
<text class="lg" x="1123" y="450">pV &gt;0.1</text>
<text class="lg" x="1123" y="468">pV 0.05-0.1</text>
<text class="lg" x="1123" y="492">pV 0.005-0.05</text>
<text class="lg" x="1123" y="526">pV 0.0005-0.005</text>
<text class="lg" x="1123" y="569">pV &lt;0.0005</text>
<line x1="1176" y1="427" x2="1176" y2="592" stroke="#cfcfcf" stroke-width="1"/>
<text class="lg" x="1213" y="431" text-anchor="middle">Group Color</text>
<rect x="1202" y="441" width="14" height="149" fill="url(#gc)"/>
</g>
</svg>
